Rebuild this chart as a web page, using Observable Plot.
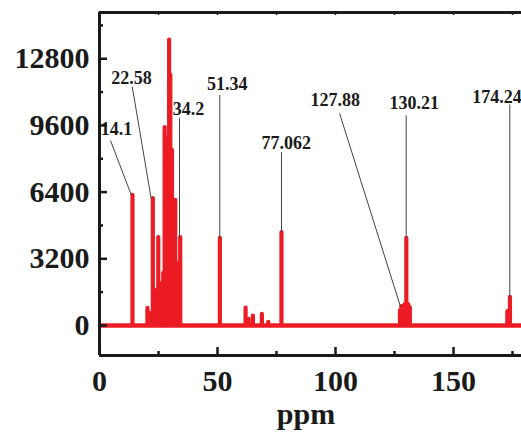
<!DOCTYPE html>
<html><head><meta charset="utf-8">
<script src="https://cdn.jsdelivr.net/npm/d3@7"></script>
<script src="https://cdn.jsdelivr.net/npm/@observablehq/plot@0.6"></script>
<style>html,body{margin:0;padding:0;background:#fff;overflow:hidden}</style>
</head><body><div id="chart"></div>
<script>
// Spectrum peaks (ppm, intensity)
const peakPpm = [13.98, 20.3, 21.0, 22.6, 23.0, 23.4, 23.8, 24.2, 24.9, 25.3, 25.6, 26.0, 26.3, 26.7, 27.0, 27.6, 28.2, 28.9, 29.5, 30.0, 30.7, 31.4, 32.1, 32.7, 33.3, 33.7, 34.2,
  51.0, 61.9, 63.2, 65.0, 68.8, 71.5, 77.1, 127.3, 127.9, 128.6, 129.3, 130.0, 130.8, 131.5, 172.8, 173.9];
const peakIntensity = [6240, 820, 600, 6090, 1400, 1600, 1600, 1700, 4220, 1600, 1500, 2000, 1800, 2000, 2500, 9500, 7500, 9000, 13700, 12000, 8400, 5500, 6000, 3000, 2500, 1500, 4220,
  4180, 830, 300, 450, 530, 150, 4460, 700, 910, 900, 1000, 4180, 1000, 850, 670, 1350];

const xTicksMajor = [0, 50, 100, 150];
const xTicksMinor = [25, 75, 125, 175];
const yTicksMajor = [0, 3200, 6400, 9600, 12800];
const yTicksMinor = [1600, 4800, 8000, 11200, 14400];
const xDomain = [0, 178.8];
const yDomain = [-1440, 15020];
const xLabel = "ppm";

// Peak annotations
const labelText = ["14.1", "22.58", "34.2", "51.34", "77.062", "127.88", "130.21", "174.24"];
const labelPpm = [7.2, 13.56, 37.71, 54.11, 79.1, 99.87, 133.34, 168.44];
const labelIntensity = [9118, 11599, 10111, 11277, 8480, 10510, 10399, 10668];
const leaderFromPpm = [4.66, 13.86, 33.9, 50.97, 77.11, 101.7, 129.95, 173.85];
const leaderFromIntensity = [8878, 11469, 9967, 11071, 8316, 10188, 10078, 10605];
const leaderToPpm = [13.56, 21.9, 33.9, 50.97, 77.11, 127.5, 129.95, 173.85];
const leaderToIntensity = [6238, 6080, 4223, 4175, 4463, 911, 4175, 1343];

const peaks = peakPpm.map((p, i) => ({ppm: p, v: peakIntensity[i]}));
const labels = labelText.map((t, i) => ({t, x: labelPpm[i], y: labelIntensity[i]}));
const leaders = labelText.map((t, i) => ({x1: leaderFromPpm[i], y1: leaderFromIntensity[i], x2: leaderToPpm[i], y2: leaderToIntensity[i]}));

const RED = "#ec1c24";
const INK = "#1a1a1a";

const chart = Plot.plot({
  width: 521,
  height: 432,
  marginLeft: 99,
  marginRight: 0,
  marginTop: 12,
  marginBottom: 77,
  style: {fontFamily: "'Liberation Serif', 'Times New Roman', serif", fontWeight: "bold", background: "#fff", color: INK},
  x: {domain: xDomain},
  y: {domain: yDomain},
  marks: [
    // baseline & peaks
    Plot.ruleY([0], {x1: xDomain[0], x2: xDomain[1], stroke: RED, strokeWidth: 4.5}),
    Plot.ruleX(peaks, {x: "ppm", y1: 0, y2: "v", stroke: RED, strokeWidth: 4.2, strokeLinecap: "round"}),
    // leaders & labels
    Plot.link(leaders, {x1: "x1", y1: "y1", x2: "x2", y2: "y2", stroke: "#444", strokeWidth: 1}),
    Plot.text(labels, {x: "x", y: "y", text: "t", fontSize: 18, fontWeight: "bold", fill: INK, textAnchor: "middle", lineAnchor: "bottom"}),
    // frame lines
    Plot.ruleX([xDomain[0]], {y1: yDomain[0], y2: yDomain[1], stroke: INK, strokeWidth: 3}),
    Plot.ruleY([yDomain[0], yDomain[1]], {x1: xDomain[0], x2: xDomain[1], stroke: INK, strokeWidth: 3}),
    // axes
    Plot.axisY(yTicksMajor, {anchor: "left", tickSize: -8, tickPadding: 18, fontSize: 30, fontWeight: "bold", fill: INK, stroke: INK, strokeWidth: 2.5, label: null, tickFormat: d => String(d)}),
    Plot.axisY(yTicksMinor, {anchor: "left", tickSize: -4, text: null, stroke: INK, strokeWidth: 2.5, label: null}),
    Plot.axisX(xTicksMajor, {anchor: "bottom", tickSize: -8, tickPadding: 22, fontSize: 30, fontWeight: "bold", fill: INK, stroke: INK, strokeWidth: 2.5, label: null, tickFormat: d => String(d)}),
    Plot.axisX(xTicksMinor, {anchor: "bottom", tickSize: -4, text: null, stroke: INK, strokeWidth: 2.5, label: null}),
    Plot.axisX(xTicksMajor.concat(xTicksMinor), {anchor: "top", tickSize: -2, text: null, stroke: INK, strokeWidth: 1.5, label: null}),
    Plot.text([xLabel], {frameAnchor: "bottom", dx: -4.5, dy: 68, lineAnchor: "bottom", fontSize: 30, fontWeight: "bold", fill: INK})
  ]
});
document.getElementById("chart").appendChild(chart);
</script>
</body></html>
